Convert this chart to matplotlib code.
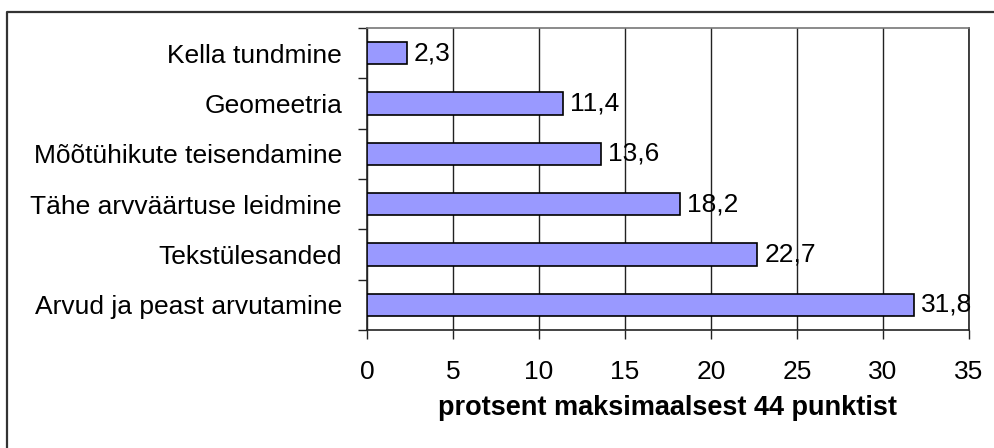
import matplotlib
matplotlib.use("Agg")
import matplotlib.pyplot as plt
from matplotlib.lines import Line2D
import numpy as np

categories = ["Arvud ja peast arvutamine", "Tekstülesanded", "Tähe arvväärtuse leidmine",
              "Mõõtühikute teisendamine", "Geomeetria", "Kella tundmine"]
values = [31.8, 22.7, 18.2, 13.6, 11.4, 2.3]
xticks = [0, 5, 10, 15, 20, 25, 30, 35]
xlabel = "protsent maksimaalsest 44 punktist"

plt.rcParams['font.family'] = ['Liberation Sans', 'DejaVu Sans']
FS = 19

W, H = 994, 448
fig = plt.figure(figsize=(W / 100, H / 100), dpi=100)
ax = fig.add_axes([367 / W, 1 - 330 / H, (969 - 367) / W, (330 - 28) / H])

y = np.arange(len(categories))
ax.barh(y, values, height=0.44, color="#9999FF", edgecolor="black", linewidth=1.2, zorder=3)
for yi, v in zip(y, values):
    ax.text(v + 0.4, yi, f"{v:.1f}".replace(".", ","), va="center", ha="left",
            fontsize=FS, zorder=4)

ax.set_xlim(0, 35)
ax.set_ylim(-0.5, len(categories) - 0.5)
ax.set_xticks(xticks)
ax.set_xticklabels([str(t) for t in xticks], fontsize=FS)
ax.set_yticks(y)
ax.set_yticklabels(categories, fontsize=FS)
ax.set_yticks(np.arange(-0.5, len(categories), 1.0), minor=True)
ax.tick_params(axis="y", which="major", length=0, pad=18)
ax.tick_params(axis="y", which="minor", length=6.5, width=1, direction="out", color="#222222")
ax.tick_params(axis="x", which="major", length=6.5, width=1, direction="out", pad=15, color="#222222")
ax.grid(axis="x", color="#222222", linewidth=1, zorder=1)
for s in ax.spines.values():
    s.set_color("#222222")
    s.set_linewidth(1.2)
ax.spines["top"].set_color("#777777")
ax.set_xlabel(xlabel, fontsize=19.5, fontweight="bold", labelpad=8)

# outer frame (only top and left visible)
fig.add_artist(Line2D([7 / W, 7 / W, 1.0], [0.0, 1 - 12 / H, 1 - 12 / H],
                      transform=fig.transFigure, color="#333333", linewidth=1.6))

fig.savefig("out.png", dpi=100)
